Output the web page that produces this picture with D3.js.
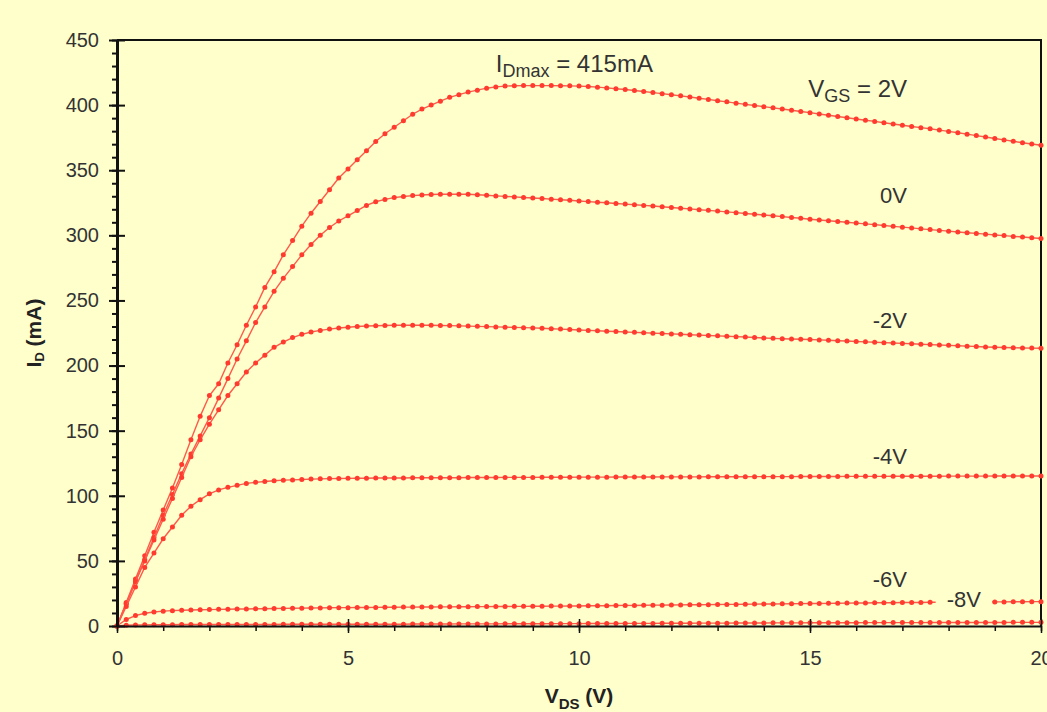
<!DOCTYPE html>
<html>
<head>
<meta charset="utf-8">
<script src="https://cdnjs.cloudflare.com/ajax/libs/d3/7.8.5/d3.min.js"></script>
<style>
  html, body { margin: 0; padding: 0; background: #ffffcc; }
  svg { display: block; }
  text { font-family: "Liberation Sans", Arial, Helvetica, sans-serif; }
</style>
</head>
<body>
<div id="chart"></div>
<script>
// Output characteristics, I_D (mA) read every 0.2 V of V_DS from 0 to 20 V
var idVgs2 = [
  0, 18, 36, 54, 72,
  89, 106, 124, 143, 161,
  177, 186, 202, 216, 231,
  245, 260, 272, 285, 296,
  307, 317, 326, 335, 344,
  351, 358, 365, 372, 378,
  383, 388, 393, 397, 400,
  403, 406, 408, 410, 411.5,
  413, 414, 414.6, 414.9, 415,
  415, 415, 415, 414.9, 414.8,
  414.6, 414.3, 413.8, 413.2, 412.6,
  412, 411.2, 410.4, 409.6, 408.8,
  408, 407.1, 406.2, 405.3, 404.4,
  403.4, 402.5, 401.5, 400.6, 399.7,
  398.8, 397.9, 397, 396.1, 395.1,
  394.2, 393.2, 392.2, 391.3, 390.3,
  389.3, 388.4, 387.5, 386.5, 385.5,
  384.5, 383.6, 382.7, 381.8, 380.8,
  379.8, 378.8, 377.7, 376.6, 375.5,
  374.4, 373.3, 372.2, 371.1, 370.1,
  369.2
];
var idVgs0 = [
  0, 17, 34, 51, 68,
  85, 101, 117, 132, 146,
  160, 175, 190, 205, 219,
  233, 245, 257, 267, 276,
  285, 293, 300, 306, 311,
  315, 319, 323, 325.8, 327.6,
  329, 329.8, 330.5, 331, 331.3,
  331.5, 331.6, 331.6, 331.5, 331.2,
  330.8, 330.3, 329.9, 329.5, 329.1,
  328.7, 328.3, 327.8, 327.3, 326.9,
  326.4, 325.9, 325.4, 325, 324.5,
  324, 323.5, 323, 322.5, 321.9,
  321.4, 320.8, 320.3, 319.7, 319.2,
  318.6, 318, 317.4, 316.8, 316.2,
  315.6, 315, 314.4, 313.7, 313.1,
  312.4, 311.8, 311.2, 310.6, 310,
  309.4, 308.8, 308.2, 307.5, 306.9,
  306.3, 305.7, 305, 304.4, 303.8,
  303.2, 302.6, 302, 301.5, 300.9,
  300.3, 299.8, 299.2, 298.7, 298.1,
  297.6
];
var idVgsM2 = [
  0, 17, 34, 50, 66,
  82, 98, 114, 130, 143,
  155, 166, 177, 186, 195,
  202, 208, 214, 218, 221.5,
  224, 225.8, 227, 228, 228.8,
  229.4, 230, 230.4, 230.6, 230.8,
  230.9, 231, 231, 231, 230.9,
  230.8, 230.7, 230.5, 230.3, 230.1,
  229.9, 229.7, 229.5, 229.3, 229.1,
  228.9, 228.6, 228.3, 228, 227.7,
  227.3, 227, 226.7, 226.4, 226.1,
  225.8, 225.5, 225.2, 224.9, 224.6,
  224.3, 224, 223.7, 223.4, 223.1,
  222.8, 222.5, 222.2, 221.9, 221.6,
  221.2, 220.9, 220.6, 220.4, 220.2,
  220, 219.7, 219.4, 219.1, 218.8,
  218.5, 218.2, 217.9, 217.6, 217.3,
  217, 216.7, 216.4, 216.1, 215.8,
  215.5, 215.2, 214.9, 214.6, 214.3,
  214.1, 213.9, 213.7, 213.5, 213.4,
  213.3
];
var idVgsM4 = [
  0, 15, 30, 45, 56,
  67, 76, 85, 92, 97,
  101.5, 104.5, 106.5, 108, 109.5,
  110.3, 111, 111.5, 112, 112.2,
  112.5, 112.8, 113, 113.2, 113.3,
  113.4, 113.5, 113.5, 113.6, 113.6,
  113.7, 113.7, 113.8, 113.8, 113.8,
  113.9, 113.9, 113.9, 114, 114,
  114, 114, 114.1, 114.1, 114.1,
  114.1, 114.2, 114.2, 114.2, 114.2,
  114.3, 114.3, 114.3, 114.3, 114.4,
  114.4, 114.4, 114.4, 114.4, 114.5,
  114.5, 114.5, 114.5, 114.5, 114.6,
  114.6, 114.6, 114.6, 114.6, 114.7,
  114.7, 114.7, 114.7, 114.7, 114.8,
  114.8, 114.8, 114.8, 114.8, 114.9,
  114.9, 114.9, 114.9, 114.9, 115,
  115, 115, 115, 115, 115,
  115.1, 115.1, 115.1, 115.1, 115.1,
  115.2, 115.2, 115.2, 115.2, 115.2,
  115.2
];
var idVgsM6 = [
  0, 5, 8, 9.8, 10.8,
  11.4, 11.8, 12.1, 12.3, 12.5,
  12.6, 12.8, 12.9, 13, 13.1,
  13.2, 13.3, 13.4, 13.5, 13.6,
  13.7, 13.8, 13.9, 14, 14.1,
  14.1, 14.2, 14.2, 14.3, 14.4,
  14.4, 14.5, 14.5, 14.6, 14.6,
  14.7, 14.7, 14.8, 14.8, 14.9,
  14.9, 15, 15, 15.1, 15.1,
  15.2, 15.2, 15.3, 15.3, 15.4,
  15.4, 15.5, 15.6, 15.6, 15.7,
  15.8, 15.8, 15.9, 16, 16,
  16.1, 16.2, 16.3, 16.3, 16.4,
  16.5, 16.6, 16.6, 16.7, 16.8,
  16.9, 16.9, 17, 17.1, 17.2,
  17.3, 17.3, 17.4, 17.5, 17.6,
  17.7, 17.7, 17.8, 17.9, 17.9,
  18, 18.1, 18.1, 18.2, 18.2,
  18.3, 18.3, 18.4, 18.4, 18.5,
  18.5, 18.5, 18.6, 18.6, 18.7,
  18.7
];
var idVgsM8 = [
  0, 0.6, 0.8, 0.9, 1,
  1, 1, 1.1, 1.1, 1.1,
  1.1, 1.1, 1.2, 1.2, 1.2,
  1.2, 1.2, 1.2, 1.3, 1.3,
  1.3, 1.3, 1.3, 1.3, 1.3,
  1.3, 1.4, 1.4, 1.4, 1.4,
  1.4, 1.4, 1.5, 1.5, 1.5,
  1.5, 1.5, 1.6, 1.6, 1.6,
  1.6, 1.6, 1.7, 1.7, 1.7,
  1.7, 1.7, 1.8, 1.8, 1.8,
  1.8, 1.9, 1.9, 1.9, 1.9,
  2, 2, 2, 2, 2.1,
  2.1, 2.1, 2.1, 2.2, 2.2,
  2.2, 2.2, 2.3, 2.3, 2.3,
  2.3, 2.4, 2.4, 2.4, 2.4,
  2.5, 2.5, 2.5, 2.5, 2.5,
  2.5, 2.6, 2.6, 2.6, 2.6,
  2.6, 2.6, 2.6, 2.7, 2.7,
  2.7, 2.7, 2.7, 2.7, 2.7,
  2.7, 2.7, 2.8, 2.8, 2.8,
  2.8
];

var vgsNames = ["V_GS = 2V", "0V", "-2V", "-4V", "-6V", "-8V"];
var curves = [idVgs2, idVgs0, idVgsM2, idVgsM4, idVgsM6, idVgsM8];
var xTicks = [0, 5, 10, 15, 20];
var yTicks = [0, 50, 100, 150, 200, 250, 300, 350, 400, 450];
var idMax = 415;

// sweep points (V_DS, volts)
var vds = d3.range(101).map(function(i) { return +(i * 0.2).toFixed(1); });

var W = 1047, H = 712;
var m = { top: 40, left: 117 };
var w = 924, h = 586;

var svg = d3.select("#chart").append("svg")
  .attr("width", W)
  .attr("height", H);

svg.append("rect")
  .attr("width", W)
  .attr("height", H)
  .attr("fill", "#ffffcc");

var g = svg.append("g")
  .attr("transform", "translate(" + m.left + "," + m.top + ")");

var x = d3.scaleLinear().domain([0, 20]).range([0, w]);
var y = d3.scaleLinear().domain([0, 450]).range([h, 0]);

// frame (top + right)
g.append("path")
  .attr("d", "M0,0H" + w + "V" + h)
  .attr("fill", "none")
  .attr("stroke", "#111")
  .attr("stroke-width", 2);

// minor ticks
g.append("g")
  .call(d3.axisLeft(y).tickValues(d3.range(0, 451, 10)).tickSize(5).tickFormat(""))
  .call(function(s) { s.select(".domain").remove(); })
  .selectAll("line").attr("stroke", "#111").attr("stroke-width", 2);

g.append("g")
  .attr("transform", "translate(0," + h + ")")
  .call(d3.axisBottom(x).tickValues(d3.range(0, 21, 1)).tickSize(5).tickFormat(""))
  .call(function(s) { s.select(".domain").remove(); })
  .selectAll("line").attr("stroke", "#111").attr("stroke-width", 1.5);

// curves
var line = d3.line()
  .x(function(d, i) { return x(vds[i]); })
  .y(function(d) { return y(d); });

var cg = g.selectAll(".curve")
  .data(curves)
  .enter().append("g")
  .attr("class", "curve");

cg.append("path")
  .attr("d", line)
  .attr("fill", "none")
  .attr("stroke", "#ff5a4a")
  .attr("stroke-width", 1.4);

cg.selectAll("circle")
  .data(function(d) { return d; })
  .enter().append("circle")
  .attr("cx", function(d, i) { return x(vds[i]); })
  .attr("cy", function(d) { return y(d); })
  .attr("r", 2.5)
  .attr("fill", "#ff3b2f");

// major axes
var yAxis = g.append("g")
  .call(d3.axisLeft(y).tickValues(yTicks).tickSize(8).tickSizeOuter(0).tickPadding(10));
yAxis.selectAll(".tick line").attr("x1", 8).attr("stroke", "#111").attr("stroke-width", 2);
yAxis.select(".domain").attr("stroke", "#111").attr("stroke-width", 3);
yAxis.selectAll("text")
  .attr("font-size", 20)
  .attr("fill", "#333")
  .style("font-family", "'Liberation Sans', Arial, sans-serif");

var xAxis = g.append("g")
  .attr("transform", "translate(0," + h + ")")
  .call(d3.axisBottom(x).tickValues(xTicks).tickSize(7).tickSizeOuter(0).tickFormat(d3.format("d")));
xAxis.selectAll(".tick line").attr("y1", -7).attr("stroke", "#111").attr("stroke-width", 1.5);
xAxis.select(".domain").attr("stroke", "#111").attr("stroke-width", 2);
xAxis.selectAll("text")
  .attr("y", 25)
  .attr("font-size", 20)
  .attr("fill", "#333")
  .style("font-family", "'Liberation Sans', Arial, sans-serif");

// axis titles
var yt = svg.append("text")
  .attr("transform", "translate(41," + (m.top + h / 2) + ") rotate(-90)")
  .attr("text-anchor", "middle")
  .attr("font-size", 21)
  .attr("font-weight", "bold")
  .attr("fill", "#222");
yt.append("tspan").text("I");
yt.append("tspan").attr("font-size", 13).attr("dy", 3).text("D");
yt.append("tspan").attr("dy", -3).text(" (mA)");

var xt = svg.append("text")
  .attr("x", m.left + w / 2)
  .attr("y", 703)
  .attr("text-anchor", "middle")
  .attr("font-size", 21)
  .attr("font-weight", "bold")
  .attr("fill", "#222");
xt.append("tspan").text("V");
xt.append("tspan").attr("font-size", 15).attr("dy", 6).text("DS");
xt.append("tspan").attr("dy", -6).text(" (V)");

// curve labels
var labelPos = [[17.1, 406], [17.1, 325], [17.1, 229], [17.1, 124.5], [17.1, 30], [18.7, 14.6]];
var lab = g.append("g")
  .attr("font-size", 22)
  .attr("fill", "#333")
  .attr("text-anchor", "end");

// gap in the -6V trace behind the -8V label
lab.append("rect")
  .attr("x", x(17.72))
  .attr("y", y(29))
  .attr("width", x(18.94) - x(17.72))
  .attr("height", y(7) - y(29))
  .attr("fill", "#ffffcc");

vgsNames.forEach(function(name, i) {
  var t = lab.append("text")
    .attr("x", x(labelPos[i][0]))
    .attr("y", y(labelPos[i][1]));
  if (i === 0) {
    t.attr("font-size", 24);
    t.append("tspan").text("V");
    t.append("tspan").attr("font-size", 18).attr("dy", 5).text("GS");
    t.append("tspan").attr("dy", -5).text(" = 2V");
  } else {
    t.text(name);
  }
});

var peak = g.append("text")
  .attr("x", x(8.2))
  .attr("y", y(425.5))
  .attr("font-size", 24)
  .attr("fill", "#333");
peak.append("tspan").text("I");
peak.append("tspan").attr("font-size", 18).attr("dy", 5).text("Dmax");
peak.append("tspan").attr("dy", -5).text(" = " + idMax + "mA");
</script>
</body>
</html>
